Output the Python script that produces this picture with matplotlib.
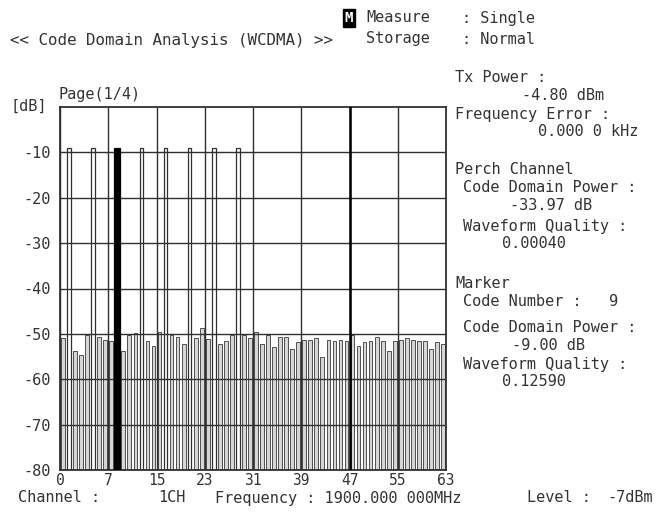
import matplotlib.pyplot as plt
import numpy as np

# code domain power per code (dB), page 1/4 -> codes 0..63
codes = np.arange(64)
levels = [-51.0, -9.0, -53.8, -54.6, -50.2, -9.0, -50.6, -51.3,
          -51.6, -9.0, -53.8, -50.2, -49.9, -9.0, -51.6, -52.7,
          -49.5, -9.0, -50.2, -50.6, -52.3, -9.0, -51.0, -48.8,
          -51.1, -9.0, -52.3, -51.6, -50.2, -9.0, -50.2, -51.0,
          -49.5, -52.3, -50.2, -53.0, -50.6, -50.6, -53.4, -51.9,
          -51.3, -51.3, -51.0, -55.1, -51.3, -51.6, -51.3, -51.6,
          -50.2, -52.7, -51.9, -51.6, -50.6, -51.6, -53.8, -51.6,
          -51.3, -51.0, -51.3, -51.6, -51.6, -53.4, -51.9, -52.3]
marker_code = 9
xtick_labels = ['0', '7', '15', '23', '31', '39', '47', '55', '63']
ytick_vals = [-10, -20, -30, -40, -50, -60, -70, -80]

W, H = 663, 512
fig = plt.figure(figsize=(W / 100, H / 100), dpi=100)
ax = fig.add_axes([60 / W, 1 - 470 / H, 386 / W, 363 / H])

FONT = 'DejaVu Sans Mono'
TXT = '#333333'
BOTTOM = -80

levels = np.array(levels)
tall = levels > -30
noise = ~tall
noise[marker_code] = False
tall[marker_code] = False

ax.bar(codes[noise] + 0.5, levels[noise] - BOTTOM, bottom=BOTTOM, width=0.62,
       color='#d6d6d6', edgecolor='#505050', linewidth=0.7, zorder=2)
ax.bar(codes[tall] + 0.5, levels[tall] - BOTTOM, bottom=BOTTOM, width=0.6,
       color='white', edgecolor='#303030', linewidth=0.9, zorder=2)
ax.bar(codes[marker_code] + 0.5, levels[marker_code] - BOTTOM, bottom=BOTTOM,
       width=1.0, color='black', edgecolor='black', linewidth=0.9, zorder=3)

ax.set_xlim(0, 64)
ax.set_ylim(-80, 0)
ax.set_xticks(np.arange(0, 65, 8))
ax.set_xticklabels(xtick_labels, fontfamily=FONT, fontsize=10.5, color=TXT)
ax.set_yticks(ytick_vals)
ax.set_yticklabels([str(v) for v in ytick_vals], fontfamily=FONT, fontsize=11, color=TXT)
ax.tick_params(axis='x', length=0, pad=2)
ax.tick_params(axis='y', length=0, pad=7)
ax.grid(True, color='#303030', linewidth=1.0, zorder=1)
ax.set_axisbelow(False)
ax.axvline(48, color='black', linewidth=1.8, zorder=4)
for sp in ax.spines.values():
    sp.set_color('#303030')
    sp.set_linewidth(1.3)


def put(x, y, s, size=11, **kw):
    fig.text(x / W, 1 - y / H, s, fontfamily=FONT, fontsize=size, color=TXT,
             va='center', ha='left', **kw)


# header
put(10, 41, '<< Code Domain Analysis (WCDMA) >>', size=11.4)
fig.text(349 / W, 1 - 18 / H, 'M', fontfamily=FONT, fontsize=10, color='white',
         va='center', ha='center', fontweight='bold',
         bbox=dict(boxstyle='square,pad=0.15', fc='black', ec='black'))
put(366, 18, 'Measure')
put(462, 18, ': Single')
put(366, 39, 'Storage')
put(462, 39, ': Normal')
put(59, 94, 'Page(1/4)')
put(11, 106, '[dB]')

# right panel
put(455, 78, 'Tx Power :')
put(522, 96, '-4.80 dBm')
put(455, 115, 'Frequency Error :')
put(538, 132, '0.000 0 kHz')
put(455, 170, 'Perch Channel')
put(463, 188, 'Code Domain Power :')
put(510, 206, '-33.97 dB')
put(463, 226, 'Waveform Quality :')
put(502, 244, '0.00040')
put(455, 283, 'Marker')
put(463, 301, 'Code Number :   9')
put(463, 327, 'Code Domain Power :')
put(512, 345, '-9.00 dB')
put(463, 364, 'Waveform Quality :')
put(502, 382, '0.12590')

# footer
put(18, 498, 'Channel :')
put(158, 498, '1CH')
put(215, 498, 'Frequency : 1900.000 000MHz')
put(527, 498, 'Level :')
put(607, 498, '-7dBm')

fig.savefig('out.png', dpi=100, facecolor='white')
